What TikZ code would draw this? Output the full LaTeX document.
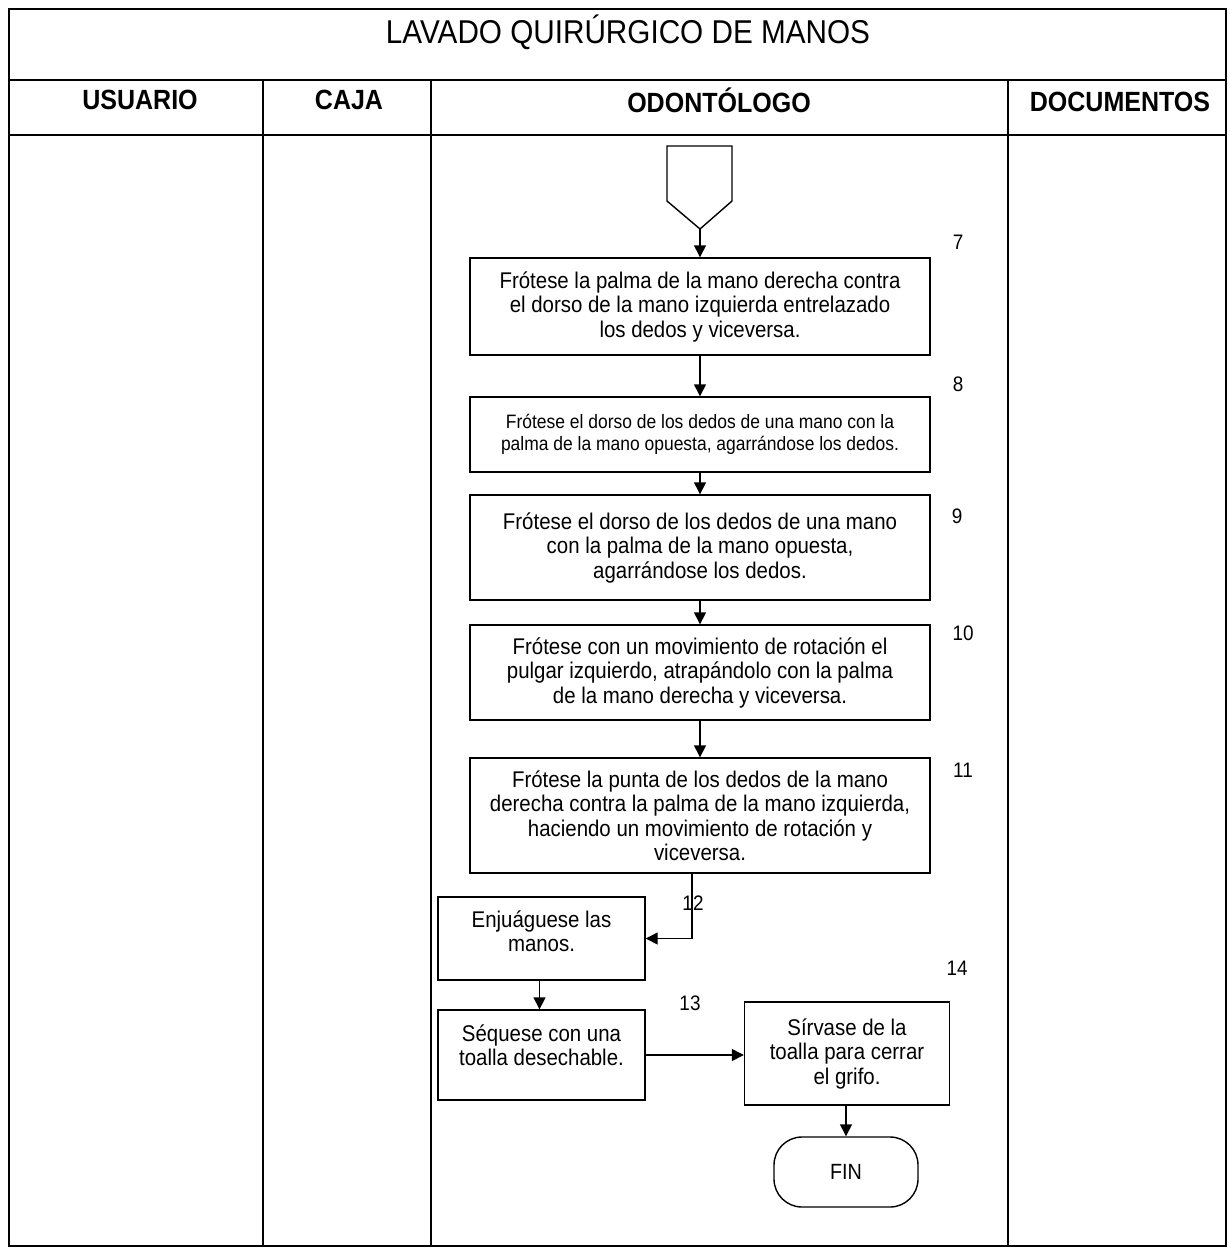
\documentclass[tikz,border=0pt]{standalone}
\usepackage{fontspec}
\setmainfont{Liberation Sans}[FakeStretch=0.9]
\usetikzlibrary{arrows.meta}

\begin{document}
\begin{tikzpicture}[x=1pt,y=-1pt,
  frame/.style={line width=1.6pt},
  stepbox/.style={draw, line width=1.4pt, align=center, inner sep=0pt,
    font=\fontsize{22.7}{24.5}\selectfont},
  smallbox/.style={stepbox, font=\fontsize{19.4}{22}\selectfont},
  steptext/.style={align=center, inner sep=0pt, font=\fontsize{22.7}{24.5}\selectfont},
  num/.style={inner sep=0pt, font=\fontsize{21}{24}\selectfont},
  head/.style={inner sep=0pt, font=\fontsize{27.8}{32}\selectfont\bfseries},
  flow/.style={line width=1.4pt, -{Triangle[length=12pt,width=12pt]}},
  endbox/.style={draw, line width=1.4pt, rounded corners=28pt, inner sep=0pt,
    minimum width=144pt, minimum height=70pt, font=\fontsize{22}{26}\selectfont}
]
\useasboundingbox (0,0) rectangle (1230,1252);
\fill[white] (0,0) rectangle (1230,1252);

% swimlane table
\draw[frame] (9,9) rectangle (1226,1246);
\draw[frame] (9,80) -- (1226,80);
\draw[frame] (9,135) -- (1226,135);
\draw[frame] (263,80) -- (263,1246);
\draw[frame] (431,80) -- (431,1246);
\draw[frame] (1008,80) -- (1008,1246);

\node[inner sep=0pt, font=\fontsize{33}{38}\selectfont] (title) at (628,32) {LAVADO QUIRÚRGICO DE MANOS};
\node[head] (hUsu) at (140,100) {USUARIO};
\node[head] (hCaja) at (349,100) {CAJA};
\node[head] (hOdo) at (719,100) {ODONTÓLOGO};
\node[head] (hDoc) at (1120,102) {DOCUMENTOS};

% off-page connector
\draw[line width=1.4pt] (667,146) -- (732,146) -- (732,201) -- (700,229) -- (667,201) -- cycle;
\coordinate (start) at (700,229);

% process steps
\node[stepbox, minimum width=460pt, minimum height=97pt] (b7) at (700,306.5)
  {Frótese la palma de la mano derecha contra\\el dorso de la mano izquierda entrelazado\\los dedos y viceversa.};
\node[smallbox, minimum width=460pt, minimum height=75pt] (b8) at (700,434.5)
  {Frótese el dorso de los dedos de una mano con la\\palma de la mano opuesta, agarrándose los dedos.};
\node[stepbox, minimum width=460pt, minimum height=105pt] (b9) at (700,547.5)
  {Frótese el dorso de los dedos de una mano\\con la palma de la mano opuesta,\\agarrándose los dedos.};
\node[stepbox, minimum width=460pt, minimum height=95pt] (b10) at (700,672.5)
  {Frótese con un movimiento de rotación el\\pulgar izquierdo, atrapándolo con la palma\\de la mano derecha y viceversa.};
\node[stepbox, minimum width=460pt, minimum height=115pt] (b11) at (700,815.5)
  {Frótese la punta de los dedos de la mano\\derecha contra la palma de la mano izquierda,\\haciendo un movimiento de rotación y\\viceversa.};

\node[stepbox, minimum width=207pt, minimum height=83pt] (b12) at (541.5,938.5) {};
\node[steptext] (t12) at (541.5,931) {Enjuáguese las\\manos.};
\node[stepbox, minimum width=207pt, minimum height=90pt] (b13) at (541.5,1055) {};
\node[steptext] (t13) at (541.5,1045) {Séquese con una\\toalla desechable.};
\node[stepbox, minimum width=205pt, minimum height=103pt] (b14) at (847,1053.5)
  {Sírvase de la\\toalla para cerrar\\el grifo.};
\node[endbox] (fin) at (846,1172) {FIN};

% step numbers
\node[num] (n7) at (958,242) {7};
\node[num] (n8) at (958,384) {8};
\node[num] (n9) at (957,516) {9};
\node[num] (n10) at (963,633) {10};
\node[num] (n11) at (963,770) {11};
\node[num] (n13) at (690,1003) {13};
\node[num] (n14) at (957,968) {14};

% connectors
\draw[flow] (start) -- (b7.north);
\draw[flow] (b7) -- (b8);
\draw[flow] (b8) -- (b9);
\draw[flow] (b9) -- (b10);
\draw[flow] (b10) -- (b11);
\draw[flow] ([xshift=-8pt]b11.south) |- (b12.east);
\node[num] (n12) at (693,903) {12};
\draw[flow] ([xshift=-2pt]b12.south) -- ([xshift=-2pt]b13.north);
\draw[flow] (b13.east) -- (b13.east -| b14.west);
\draw[flow] (b14.south -| fin.north) -- (fin.north);
\end{tikzpicture}
\end{document}
